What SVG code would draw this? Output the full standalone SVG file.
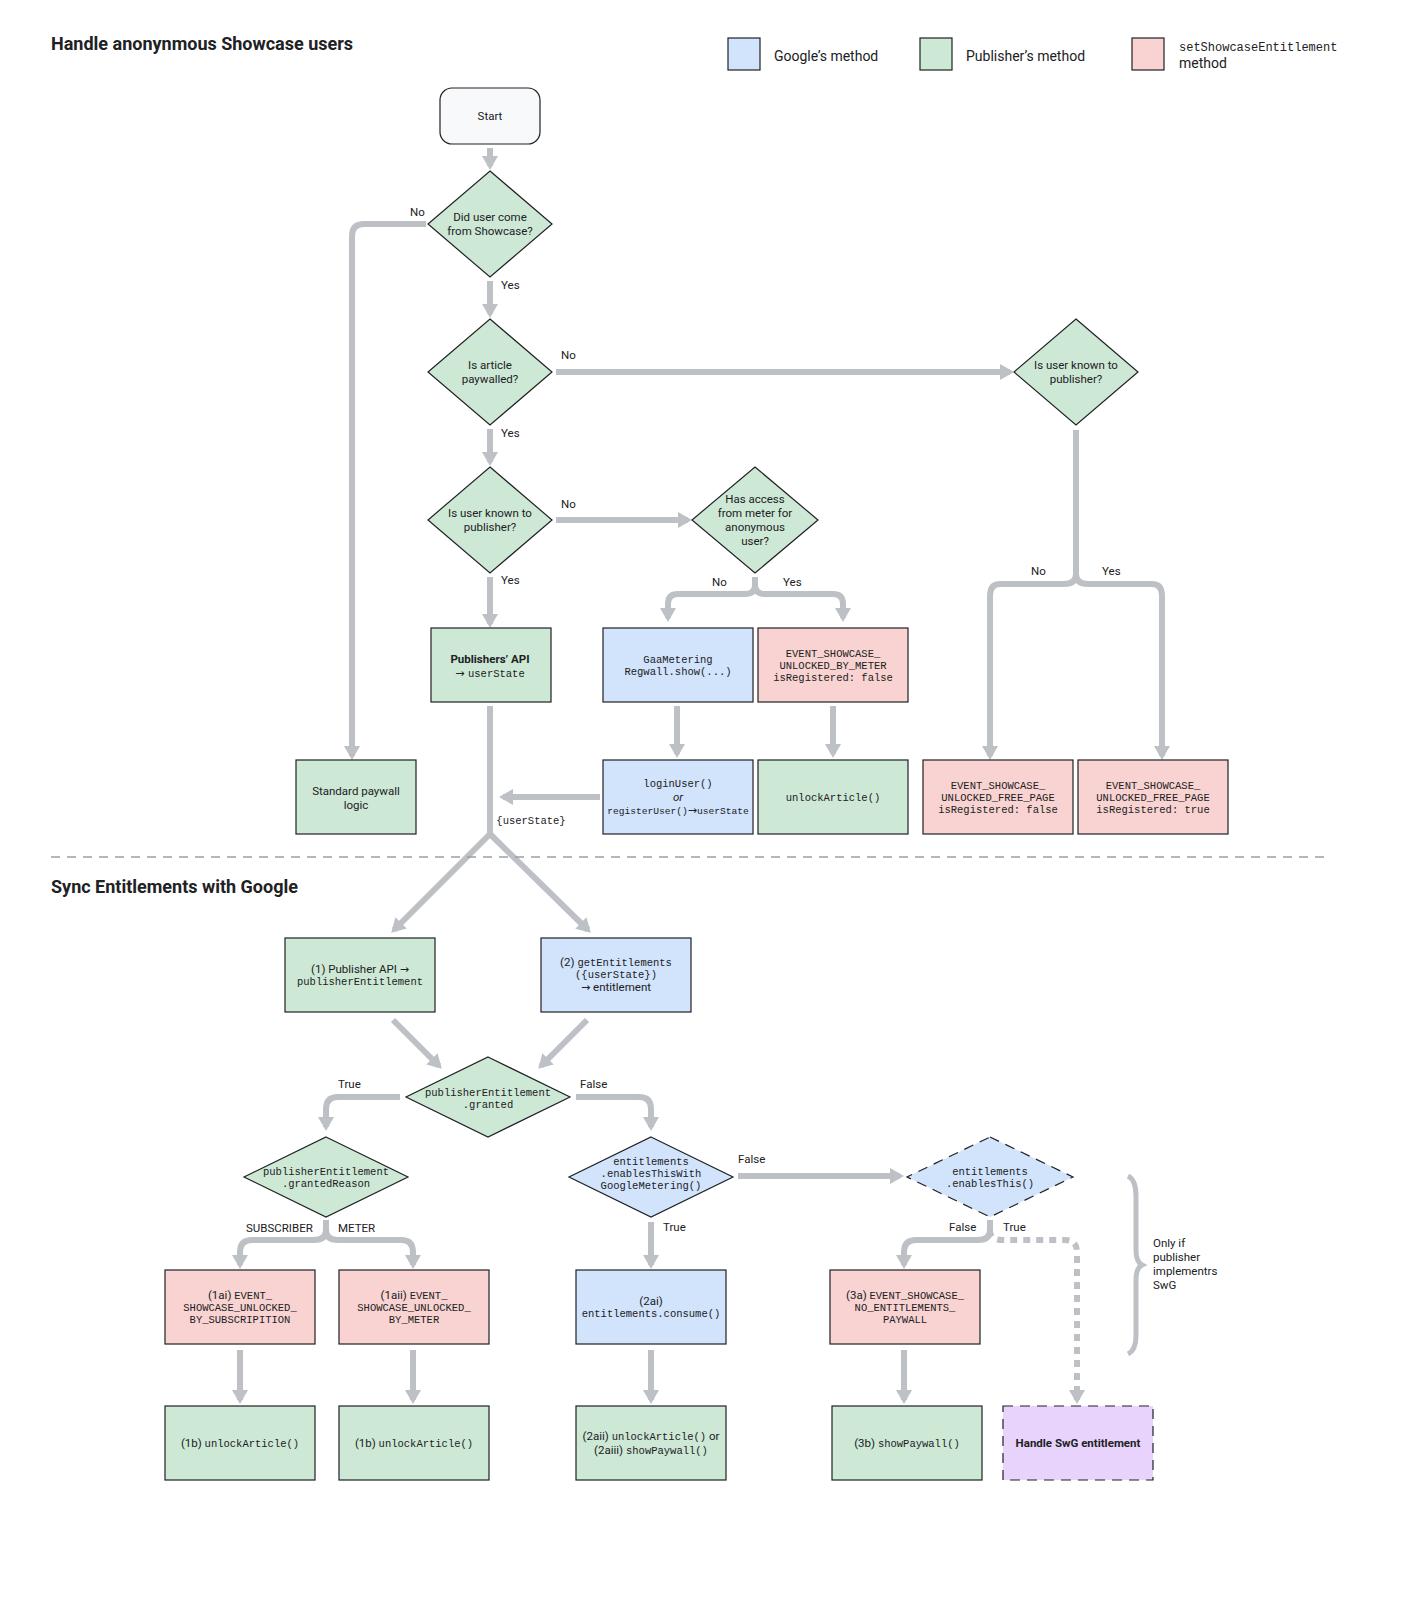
<svg xmlns="http://www.w3.org/2000/svg" width="1422" height="1600" viewBox="0 0 1422 1600">
<style>
.t{font-family:Roboto,"Liberation Sans",sans-serif;font-size:11.5px;fill:#202124;text-anchor:middle}
.m{font-family:"Liberation Mono","DejaVu Sans Mono",monospace;font-size:10.5px;fill:#202124;text-anchor:middle}
.l{font-family:Roboto,"Liberation Sans",sans-serif;font-size:11.5px;fill:#202124}
.h{font-family:Roboto,"Liberation Sans",sans-serif;font-size:18px;font-weight:bold;fill:#202124}
.r{font-family:"DejaVu Sans",sans-serif;font-size:11px}
.g{fill:#cee8d6;stroke:#202124;stroke-width:1.2}
.b{fill:#d2e3fc;stroke:#202124;stroke-width:1.2}
.p{fill:#f8d3d1;stroke:#202124;stroke-width:1.2}
.c{fill:none;stroke:#bdc1c6;stroke-width:6}
.a{marker-end:url(#ah)}
</style>
<defs>
<marker id="ah" markerUnits="userSpaceOnUse" markerWidth="16" markerHeight="16" viewBox="0 0 16 16" refX="10" refY="8" orient="auto"><path d="M0,0 L14,8 L0,16 z" fill="#bdc1c6"/></marker>
</defs>
<rect width="1422" height="1600" fill="#fff"/>
<text class="h" x="51" y="50">Handle anonynmous Showcase users</text>
<text class="h" x="51" y="893">Sync Entitlements with Google</text>
<g id="legend">
<rect class="b" x="728" y="38" width="32" height="32"/><text class="l" x="774" y="61" style="font-size:14px">Google’s method</text>
<rect class="g" x="920" y="38" width="32" height="32"/><text class="l" x="966" y="61" style="font-size:14px">Publisher’s method</text>
<rect class="p" x="1132" y="38" width="32" height="32"/><text class="m" x="1179" y="51" style="text-anchor:start;font-size:12px">setShowcaseEntitlement</text><text class="l" x="1179" y="68" style="font-size:14px">method</text>
</g>
<g id="connectors">
<path class="c a" d="M490,148 V166"/>
<path class="c a" d="M426,224 H364 Q352,224 352,236 V756"/>
<path class="c a" d="M490,281 V314"/>
<path class="c a" d="M556,372 H1010"/>
<path class="c" d="M1076,430 V574"/>
<path class="c a" d="M1076,574 Q1076,584 1064,584 H1000 Q990,584 990,596 V756"/>
<path class="c a" d="M1076,574 Q1076,584 1088,584 H1152 Q1162,584 1162,596 V756"/>
<path class="c a" d="M490,429 V462"/>
<path class="c a" d="M556,520 H688"/>
<path class="c" d="M755,577 V585"/>
<path class="c a" d="M755,585 Q755,594 745,594 H678 Q668,594 668,604 V618"/>
<path class="c a" d="M755,585 Q755,594 765,594 H833 Q843,594 843,604 V618"/>
<path class="c a" d="M490,577 V624"/>
<path class="c a" d="M677,706 V754"/>
<path class="c a" d="M833,706 V754"/>
<path class="c a" d="M600,797 H503"/>
<path class="c" d="M490,706 V834"/>
<path class="c a" d="M490,834 L394,930"/>
<path class="c a" d="M490,834 L588,930"/>
<path class="c a" d="M393,1020 L439,1066"/>
<path class="c a" d="M587,1020 L541,1066"/>
<path class="c a" d="M400,1097 H338 Q326,1097 326,1109 V1127"/>
<path class="c a" d="M576,1097 H639 Q651,1097 651,1109 V1127"/>
<path class="c" d="M326,1220 V1230"/>
<path class="c a" d="M326,1230 Q326,1240 314,1240 H252 Q240,1240 240,1252 V1265"/>
<path class="c a" d="M326,1230 Q326,1240 338,1240 H401 Q413,1240 413,1252 V1265"/>
<path class="c a" d="M738,1176 H900"/>
<path class="c a" d="M651,1222 V1265"/>
<path class="c" d="M990,1220 V1230"/>
<path class="c a" d="M990,1230 Q990,1240 978,1240 H916 Q904,1240 904,1252 V1265"/>
<path class="c a" d="M990,1230 Q990,1240 1002,1240 H1065 Q1077,1240 1077,1252 V1400" stroke-dasharray="7,6"/>
<path class="c a" d="M240,1350 V1400"/>
<path class="c a" d="M413,1350 V1400"/>
<path class="c a" d="M651,1350 V1400"/>
<path class="c a" d="M904,1350 V1400"/>
<path d="M1128,1176 Q1136,1180 1136,1196 V1250 Q1136,1262 1142,1265 Q1136,1268 1136,1280 V1336 Q1136,1350 1128,1354" fill="none" stroke="#bdc1c6" stroke-width="5"/>
<line x1="51" y1="857" x2="1328" y2="857" stroke="#9aa0a6" stroke-width="1.5" stroke-dasharray="9,7"/>
</g>
<g id="labels">
<text class="l" x="410" y="216">No</text>
<text class="l" x="501" y="289">Yes</text>
<text class="l" x="561" y="359">No</text>
<text class="l" x="501" y="437">Yes</text>
<text class="l" x="561" y="508">No</text>
<text class="l" x="501" y="584">Yes</text>
<text class="l" x="712" y="586">No</text>
<text class="l" x="783" y="586">Yes</text>
<text class="l" x="1031" y="575">No</text>
<text class="l" x="1102" y="575">Yes</text>
<text class="m" x="531" y="824">{userState}</text>
<text class="l" x="338" y="1088">True</text>
<text class="l" x="580" y="1088">False</text>
<text class="l" x="246" y="1232">SUBSCRIBER</text>
<text class="l" x="338" y="1232">METER</text>
<text class="l" x="663" y="1231">True</text>
<text class="l" x="738" y="1163">False</text>
<text class="l" x="949" y="1231">False</text>
<text class="l" x="1003" y="1231">True</text>
<text class="l" x="1153" y="1247">Only if</text>
<text class="l" x="1153" y="1261">publisher</text>
<text class="l" x="1153" y="1275">implementrs</text>
<text class="l" x="1153" y="1289">SwG</text>
</g>
<g id="start"><rect x="440" y="88" width="100" height="56" rx="12" fill="#f8f9fa" stroke="#202124" stroke-width="1.2"/><text class="t" x="490" y="120">Start</text></g>
<g id="d1"><polygon class="g" points="490,171 552,224 490,277 428,224"/><text class="t" x="490" y="221">Did user come</text><text class="t" x="490" y="235">from Showcase?</text></g>
<g id="d2"><polygon class="g" points="490,319 552,372 490,425 428,372"/><text class="t" x="490" y="369">Is article</text><text class="t" x="490" y="383">paywalled?</text></g>
<g id="d3"><polygon class="g" points="1076,319 1138,372 1076,425 1014,372"/><text class="t" x="1076" y="369">Is user known to</text><text class="t" x="1076" y="383">publisher?</text></g>
<g id="d4"><polygon class="g" points="490,467 552,520 490,573 428,520"/><text class="t" x="490" y="517">Is user known to</text><text class="t" x="490" y="531">publisher?</text></g>
<g id="d5"><polygon class="g" points="755,467 818,520 755,573 692,520"/><text class="t" x="755" y="503">Has access</text><text class="t" x="755" y="517">from meter for</text><text class="t" x="755" y="531">anonymous</text><text class="t" x="755" y="545">user?</text></g>
<g id="pubapi"><rect class="g" x="431" y="628" width="120" height="74"/><text class="t" x="490" y="663" font-weight="bold">Publishers’ API</text><text class="m" x="490" y="677"><tspan class="r">→ </tspan>userState</text></g>
<g id="gaa"><rect class="b" x="603" y="628" width="150" height="74"/><text class="m" x="678" y="663">GaaMetering</text><text class="m" x="678" y="675">Regwall.show(...)</text></g>
<g id="evmeter"><rect class="p" x="758" y="628" width="150" height="74"/><text class="m" x="833" y="657">EVENT_SHOWCASE_</text><text class="m" x="833" y="669">UNLOCKED_BY_METER</text><text class="m" x="833" y="681">isRegistered: false</text></g>
<g id="login"><rect class="b" x="603" y="760" width="150" height="74"/><text class="m" x="678" y="787">loginUser()</text><text class="t" x="678" y="801" font-style="italic">or</text><text class="m" x="678" y="814" style="font-size:9.6px">registerUser()<tspan class="r">→</tspan>userState</text></g>
<g id="unlock0"><rect class="g" x="758" y="760" width="150" height="74"/><text class="m" x="833" y="801">unlockArticle()</text></g>
<g id="stdpay"><rect class="g" x="296" y="760" width="120" height="74"/><text class="t" x="356" y="795">Standard paywall</text><text class="t" x="356" y="809">logic</text></g>
<g id="free0"><rect class="p" x="923" y="760" width="150" height="74"/><text class="m" x="998" y="789">EVENT_SHOWCASE_</text><text class="m" x="998" y="801">UNLOCKED_FREE_PAGE</text><text class="m" x="998" y="813">isRegistered: false</text></g>
<g id="free1"><rect class="p" x="1078" y="760" width="150" height="74"/><text class="m" x="1153" y="789">EVENT_SHOWCASE_</text><text class="m" x="1153" y="801">UNLOCKED_FREE_PAGE</text><text class="m" x="1153" y="813">isRegistered: true</text></g>
<g id="n1"><rect class="g" x="285" y="938" width="150" height="74"/><text class="t" x="360" y="973">(1) Publisher API <tspan class="r">→</tspan></text><text class="m" x="360" y="985">publisherEntitlement</text></g>
<g id="n2"><rect class="b" x="541" y="938" width="150" height="74"/><text class="m" x="616" y="966"><tspan style="font-family:Roboto,sans-serif;font-size:11.5px">(2) </tspan>getEntitlements</text><text class="m" x="616" y="978">({userState})</text><text class="t" x="616" y="991"><tspan class="r">→</tspan> entitlement</text></g>
<g id="d6"><polygon class="g" points="488,1057 570,1097 488,1137 406,1097"/><text class="m" x="488" y="1096">publisherEntitlement</text><text class="m" x="488" y="1108">.granted</text></g>
<g id="d7"><polygon class="g" points="326,1137 408,1177 326,1217 244,1177"/><text class="m" x="326" y="1175">publisherEntitlement</text><text class="m" x="326" y="1187">.grantedReason</text></g>
<g id="d8"><polygon class="b" points="651,1137 733,1177 651,1217 569,1177"/><text class="m" x="651" y="1165">entitlements</text><text class="m" x="651" y="1177">.enablesThisWith</text><text class="m" x="651" y="1189">GoogleMetering()</text></g>
<g id="d9"><polygon class="b" points="990,1137 1073,1177 990,1217 907,1177" stroke-dasharray="10,7"/><text class="m" x="990" y="1175">entitlements</text><text class="m" x="990" y="1187">.enablesThis()</text></g>
<g id="n1ai"><rect class="p" x="165" y="1270" width="150" height="74"/><text class="m" x="240" y="1299"><tspan style="font-family:Roboto,sans-serif;font-size:11.5px">(1ai) </tspan>EVENT_</text><text class="m" x="240" y="1311">SHOWCASE_UNLOCKED_</text><text class="m" x="240" y="1323">BY_SUBSCRIPITION</text></g>
<g id="n1aii"><rect class="p" x="339" y="1270" width="150" height="74"/><text class="m" x="414" y="1299"><tspan style="font-family:Roboto,sans-serif;font-size:11.5px">(1aii) </tspan>EVENT_</text><text class="m" x="414" y="1311">SHOWCASE_UNLOCKED_</text><text class="m" x="414" y="1323">BY_METER</text></g>
<g id="n2ai"><rect class="b" x="576" y="1270" width="150" height="74"/><text class="t" x="651" y="1305">(2ai)</text><text class="m" x="651" y="1317">entitlements.consume()</text></g>
<g id="n3a"><rect class="p" x="830" y="1270" width="150" height="74"/><text class="m" x="905" y="1299"><tspan style="font-family:Roboto,sans-serif;font-size:11.5px">(3a) </tspan>EVENT_SHOWCASE_</text><text class="m" x="905" y="1311">NO_ENTITLEMENTS_</text><text class="m" x="905" y="1323">PAYWALL</text></g>
<g id="n1b"><rect class="g" x="165" y="1406" width="150" height="74"/><text class="m" x="240" y="1447"><tspan style="font-family:Roboto,sans-serif;font-size:11.5px">(1b) </tspan>unlockArticle()</text></g>
<g id="n1b2"><rect class="g" x="339" y="1406" width="150" height="74"/><text class="m" x="414" y="1447"><tspan style="font-family:Roboto,sans-serif;font-size:11.5px">(1b) </tspan>unlockArticle()</text></g>
<g id="n2aii"><rect class="g" x="576" y="1406" width="150" height="74"/><text class="m" x="651" y="1440"><tspan style="font-family:Roboto,sans-serif;font-size:11.5px">(2aii) </tspan>unlockArticle()<tspan style="font-family:Roboto,sans-serif;font-size:11.5px"> or</tspan></text><text class="m" x="651" y="1454"><tspan style="font-family:Roboto,sans-serif;font-size:11.5px">(2aiii) </tspan>showPaywall()</text></g>
<g id="n3b"><rect class="g" x="832" y="1406" width="150" height="74"/><text class="m" x="907" y="1447"><tspan style="font-family:Roboto,sans-serif;font-size:11.5px">(3b) </tspan>showPaywall()</text></g>
<g id="swg"><rect x="1003" y="1406" width="150" height="74" fill="#e8d3fc" stroke="#202124" stroke-width="1.2" stroke-dasharray="10,7"/><text class="t" x="1078" y="1447" font-weight="bold">Handle SwG entitlement</text></g>
</svg>
